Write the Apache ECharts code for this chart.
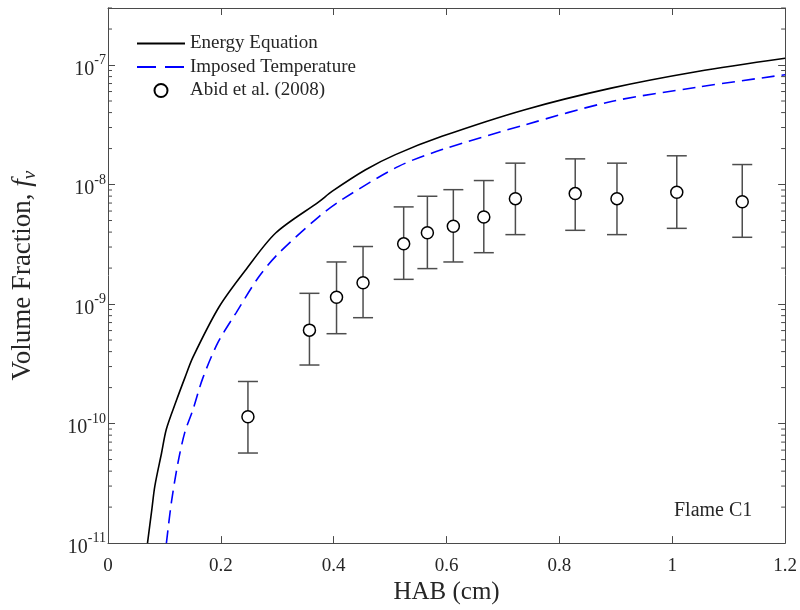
<!DOCTYPE html>
<html>
<head>
<meta charset="utf-8">
<script src="https://cdn.jsdelivr.net/npm/echarts@6/dist/echarts.min.js"></script>
<style>html,body{margin:0;padding:0;background:#fff;}#c{width:800px;height:610px;}</style>
</head>
<body>
<div id="c"></div>
<script>
// ---- data ----
const habEnergy = [0.070,0.0776,0.083,0.095,0.1035,0.121,0.136,0.1506,0.197,0.2447,0.2976,0.3741,0.3976,0.4565,0.5094,0.5918,0.7388,0.8918,1.0447,1.2];
const fvEnergy  = [1.0e-11,1.9e-11,3.0e-11,5.7e-11,9.0e-11,1.55e-10,2.4e-10,3.6e-10,9.5e-10,1.95e-9,3.95e-9,7.2e-9,8.8e-9,1.33e-8,1.78e-8,2.53e-8,4.23e-8,6.41e-8,8.83e-8,1.14e-7];

const habImposed = [0.1035,0.1124,0.124,0.136,0.1506,0.168,0.1947,0.227,0.268,0.3035,0.374,0.415,0.515,0.592,0.739,0.892,1.045,1.2];
const fvImposed  = [1.0e-11,2.2e-11,4.7e-11,8.4e-11,1.31e-10,2.4e-10,4.75e-10,8.45e-10,1.71e-9,2.69e-9,5.4e-9,7.5e-9,1.42e-8,1.96e-8,3.16e-8,4.95e-8,6.53e-8,8.3e-8];

const habExp = [0.248,0.357,0.405,0.452,0.524,0.566,0.612,0.666,0.722,0.828,0.902,1.008,1.124];
const fvExp  = [1.14e-10,6.05e-10,1.14e-9,1.51e-9,3.19e-9,3.95e-9,4.48e-9,5.36e-9,7.62e-9,8.4e-9,7.62e-9,8.61e-9,7.19e-9];
const fvHigh = [2.25e-10,1.23e-9,2.25e-9,3.03e-9,6.5e-9,7.98e-9,9.06e-9,1.08e-8,1.51e-8,1.64e-8,1.51e-8,1.74e-8,1.47e-8];
const fvLow  = [5.67e-11,3.09e-10,5.65e-10,7.69e-10,1.61e-9,1.98e-9,2.25e-9,2.69e-9,3.81e-9,4.14e-9,3.81e-9,4.3e-9,3.62e-9];

const seriesNames = ['Energy Equation','Imposed Temperature','Abid et al. (2008)'];
const xTicks = {min:0, max:1.2, interval:0.2};
const yRange = {min:1e-11, max:3e-7};

// ---- helpers ----
const FONT = 'Liberation Serif';
const TXT = '#262626';
const AX = '#4a4a4a';
const pair = (xs, ys) => xs.map((x,i)=>[x, ys[i]]);

// minor log ticks (2..9 within each decade), axis decoration only
const minorTicks = [];
for (let e = -11; e <= -7; e++) {
  for (let k = 2; k <= 9; k++) {
    const v = k * Math.pow(10, e);
    if (v <= yRange.max) minorTicks.push([0, v]);
  }
}

function powLabel(v) {
  const l = Math.log10(v);
  const e = Math.round(l);
  if (Math.abs(l - e) > 1e-6) return '';
  return '{b|10}{s|' + e + '}';
}

const chart = echarts.init(document.getElementById('c'), null, {renderer:'canvas'});
const option = {
  animation: false,
  backgroundColor: '#fff',
  grid: {left:108, right:12, top:8, bottom:66, containLabel:false},
  title: {
    text: 'Flame C1', left: 674, top: 501, padding: 0,
    textStyle: {fontFamily: FONT, fontSize: 20, fontWeight: 'normal', color: TXT}
  },
  legend: {
    data: [
      {name: seriesNames[0], itemStyle: {opacity: 0}},
      {name: seriesNames[1], itemStyle: {opacity: 0}, lineStyle: {type: [19, 9]}},
      {name: seriesNames[2]}
    ],
    orient: 'vertical',
    left: 136, top: 34,
    padding: 0,
    itemWidth: 48, itemHeight: 13, itemGap: 4.5,
    selectedMode: false,
    textStyle: {fontFamily: FONT, fontSize: 19, color: TXT}
  },
  xAxis: [
    {
      type: 'value', position: 'bottom',
      min: xTicks.min, max: xTicks.max, interval: xTicks.interval,
      name: 'HAB (cm)', nameLocation: 'middle', nameGap: 27,
      nameTextStyle: {fontFamily: FONT, fontSize: 25, color: TXT},
      axisLine: {show: true, onZero: false, lineStyle: {color: AX, width: 1}},
      axisTick: {show: true, inside: true, length: 7, lineStyle: {color: AX}},
      axisLabel: {margin: 13, fontFamily: FONT, fontSize: 19, color: TXT,
        formatter: v => String(Math.round(v*10)/10)},
      splitLine: {show: false}
    },
    {
      type: 'value', position: 'top',
      min: xTicks.min, max: xTicks.max, interval: xTicks.interval,
      axisLine: {show: true, onZero: false, lineStyle: {color: AX, width: 1}},
      axisTick: {show: true, inside: true, length: 7, lineStyle: {color: AX}},
      axisLabel: {show: false},
      splitLine: {show: false}
    }
  ],
  yAxis: [
    {
      type: 'log', logBase: 10, position: 'left',
      min: yRange.min, max: yRange.max,
      name: 'Volume Fraction, {f|f}{v|v}', nameLocation: 'middle', nameGap: 69, nameRotate: 90,
      nameTextStyle: {
        fontFamily: FONT, fontSize: 27, color: TXT,
        rich: {
          f: {fontFamily: FONT, fontSize: 27, fontStyle: 'italic', color: TXT},
          v: {fontFamily: FONT, fontSize: 19, fontStyle: 'italic', color: TXT, padding: [14,0,0,0], verticalAlign: 'top'}
        }
      },
      axisLine: {show: true, onZero: false, lineStyle: {color: AX, width: 1}},
      axisTick: {show: true, inside: true, length: 7, lineStyle: {color: AX}},
      axisLabel: {
        margin: 2, fontFamily: FONT, color: TXT,
        formatter: powLabel,
        rich: {
          b: {fontFamily: FONT, fontSize: 20, lineHeight: 20, padding: [9,0,0,0], color: TXT},
          s: {fontFamily: FONT, fontSize: 14, lineHeight: 14, padding: [0,0,9,0], color: TXT}
        }
      },
      splitLine: {show: false}
    },
    {
      type: 'log', logBase: 10, position: 'right',
      min: yRange.min, max: yRange.max,
      axisLine: {show: true, onZero: false, lineStyle: {color: AX, width: 1}},
      axisTick: {show: true, inside: true, length: 7, lineStyle: {color: AX}},
      axisLabel: {show: false},
      splitLine: {show: false}
    }
  ],
  series: [
    {
      name: seriesNames[0], type: 'line', xAxisIndex: 0, yAxisIndex: 0,
      data: pair(habEnergy, fvEnergy),
      symbol: 'none', showSymbol: false, smooth: 0.3,
      lineStyle: {color: '#000', width: 1.6, type: 'solid'},
      itemStyle: {color: '#000'},
      z: 3
    },
    {
      name: seriesNames[1], type: 'line', xAxisIndex: 0, yAxisIndex: 0,
      data: pair(habImposed, fvImposed),
      symbol: 'none', showSymbol: false, smooth: 0.3,
      lineStyle: {color: '#0000ff', width: 1.6, type: [13, 7]},
      itemStyle: {color: '#0000ff'},
      z: 3
    },
    {
      name: 'errorbars', type: 'custom', xAxisIndex: 0, yAxisIndex: 0,
      data: habExp.map((x,i)=>[x, fvLow[i], fvHigh[i]]),
      encode: {x: 0, y: [1, 2]},
      renderItem: function (params, api) {
        const x = api.value(0);
        const lo = api.coord([x, api.value(1)]);
        const hi = api.coord([x, api.value(2)]);
        const hw = 10;
        const st = {stroke: '#4d4d4d', lineWidth: 1.5};
        return {
          type: 'group',
          children: [
            {type: 'line', shape: {x1: lo[0], y1: lo[1], x2: hi[0], y2: hi[1]}, style: st},
            {type: 'line', shape: {x1: lo[0]-hw, y1: lo[1], x2: lo[0]+hw, y2: lo[1]}, style: st},
            {type: 'line', shape: {x1: hi[0]-hw, y1: hi[1], x2: hi[0]+hw, y2: hi[1]}, style: st}
          ]
        };
      },
      silent: true, z: 4
    },
    {
      name: seriesNames[2], type: 'scatter', xAxisIndex: 0, yAxisIndex: 0,
      data: pair(habExp, fvExp),
      symbol: 'circle', symbolSize: 12,
      itemStyle: {color: '#fff', borderColor: '#000', borderWidth: 1.5, opacity: 1},
      z: 5
    },
    {
      name: 'minorTicks', type: 'custom', xAxisIndex: 0, yAxisIndex: 0,
      data: minorTicks,
      encode: {x: 0, y: 1},
      clip: false,
      renderItem: function (params, api) {
        const p = api.coord([0, api.value(1)]);
        const cs = params.coordSys;
        const st = {stroke: AX, lineWidth: 1};
        return {
          type: 'group',
          children: [
            {type: 'line', shape: {x1: cs.x, y1: p[1], x2: cs.x + 4, y2: p[1]}, style: st},
            {type: 'line', shape: {x1: cs.x + cs.width - 4, y1: p[1], x2: cs.x + cs.width, y2: p[1]}, style: st}
          ]
        };
      },
      silent: true, z: 2
    }
  ]
};
chart.setOption(option);
</script>
</body>
</html>
